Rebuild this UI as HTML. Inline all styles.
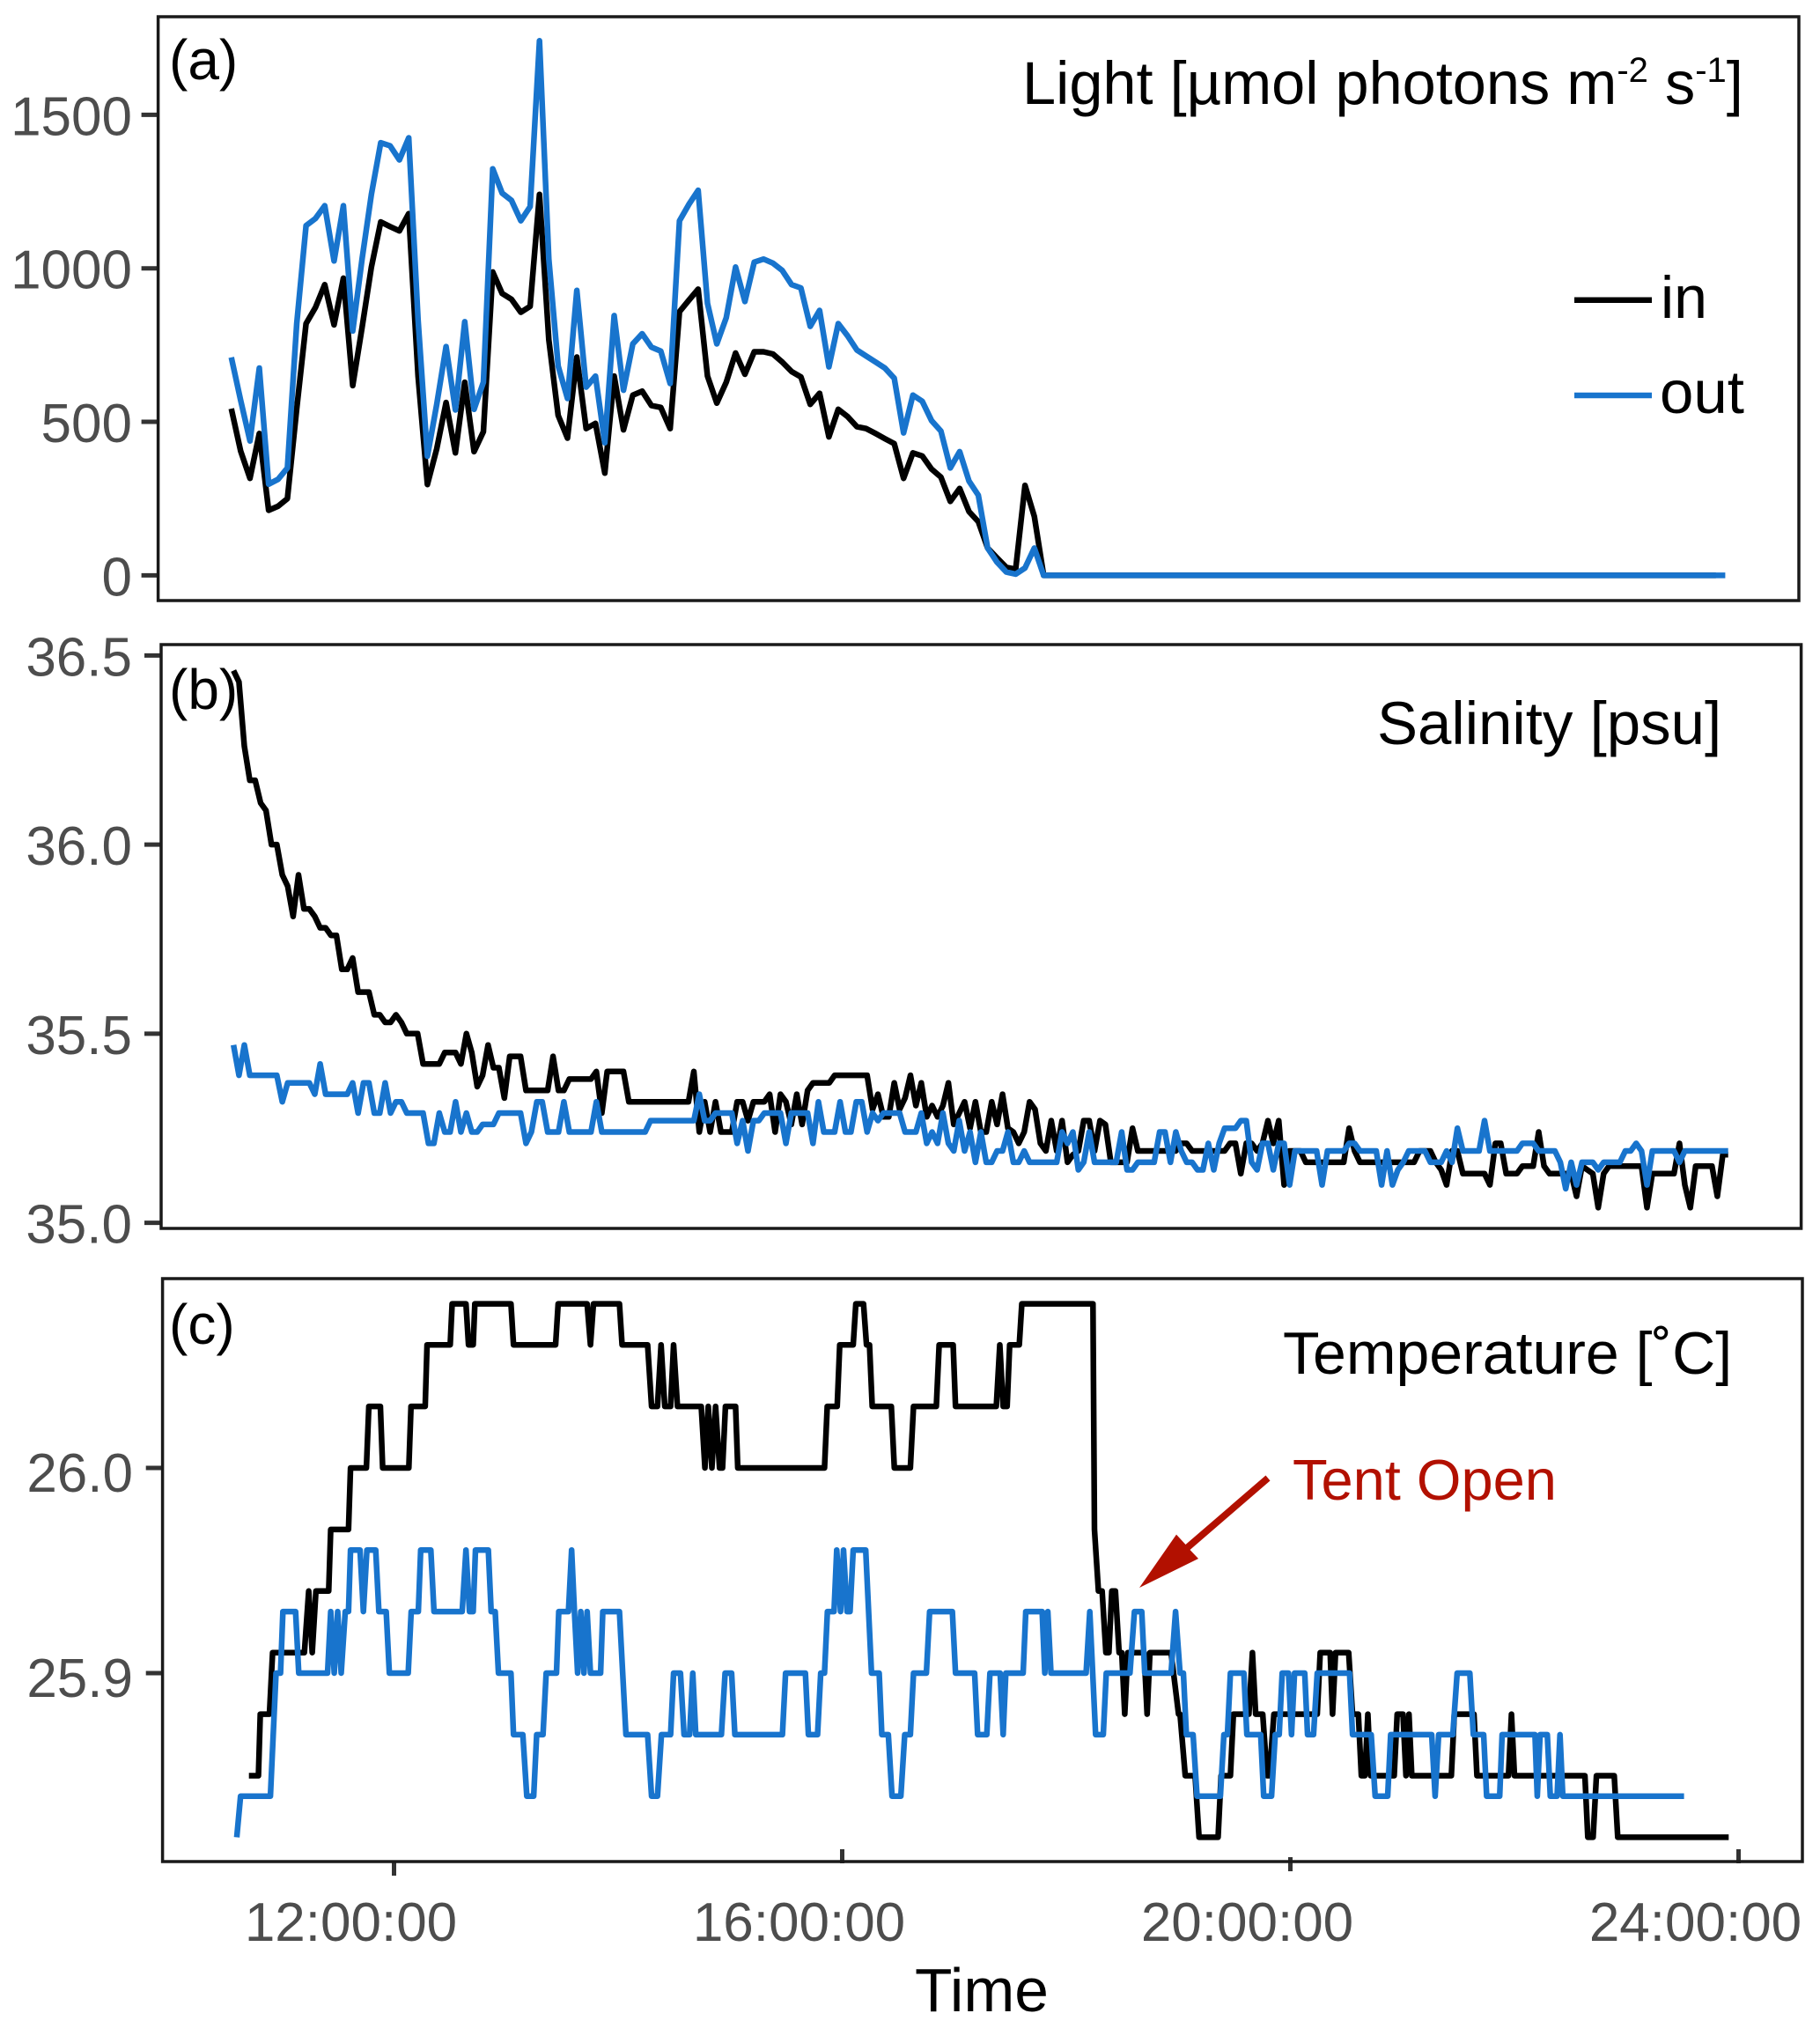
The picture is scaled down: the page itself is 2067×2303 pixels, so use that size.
<!DOCTYPE html>
<html lang="en">
<head>
<meta charset="utf-8">
<title>Light, salinity and temperature in and out of tent</title>
<style>
html,body{margin:0;padding:0;background:#fff;}
svg{display:block;font-family:"Liberation Sans",sans-serif;}
</style>
</head>
<body>
<svg id="chart" xmlns="http://www.w3.org/2000/svg" width="2067" height="2303" viewBox="0 0 2067 2303">
  <rect x="0" y="0" width="2067" height="2303" fill="#ffffff"/>
  <g id="ticks"></g>
  <g id="lines" fill="none" stroke-width="6.5" stroke-linejoin="round" stroke-linecap="butt"></g>
  <rect x="179.6" y="19" width="1863.4" height="663" fill="none" stroke="#1a1a1a" stroke-width="3.5"/>
  <rect x="183" y="732" width="1862.6" height="663" fill="none" stroke="#1a1a1a" stroke-width="3.5"/>
  <rect x="184.6" y="1452" width="1862.4" height="662" fill="none" stroke="#1a1a1a" stroke-width="3.5"/>
  <g id="tick-labels" fill="#4d4d4d" font-size="62"></g>

  <text x="192" y="90" font-size="64" fill="#000">(a)</text>
  <text x="192" y="805" font-size="64" fill="#000">(b)</text>
  <text x="192" y="1526" font-size="64" fill="#000">(c)</text>

  <text x="1161" y="118" font-size="68.5" fill="#000">Light [µmol photons m<tspan font-size="40" dy="-25">-2</tspan><tspan dy="25"> s</tspan><tspan font-size="40" dy="-25">-1</tspan><tspan dy="25">]</tspan></text>
  <text x="1564" y="845" font-size="69" fill="#000">Salinity [psu]</text>
  <text x="1457" y="1560" font-size="68" fill="#000">Temperature [˚C]</text>

  <line x1="1788" y1="340.7" x2="1876" y2="340.7" stroke="#000" stroke-width="6.5"/>
  <text x="1886" y="361" font-size="68" fill="#000">in</text>
  <line x1="1788" y1="449" x2="1876" y2="449" stroke="#1874cd" stroke-width="6.5"/>
  <text x="1885" y="469" font-size="69" fill="#000">out</text>

  <polygon fill="#b21000" points="1294,1803 1336,1742.6 1346.5,1754 1437.5,1675.5 1442.5,1681.5 1351.5,1760 1361,1770"/>
  <text x="1468" y="1703" font-size="65" fill="#b21000">Tent Open</text>

  <text x="1039" y="2284" font-size="69.5" fill="#000">Time</text>
</svg>
<script>
// ---- Panel (a): light, one reading every 5 minutes from 10:35 ----
const lightIn = [543,405,316,462,212,225,250,543,820,872,947,816,968,618,807,1004,1151,1136,1122,1178,649,296,412,563,399,629,403,468,988,918,899,857,876,1241,767,521,447,711,478,495,333,649,474,587,600,553,547,478,859,896,932,649,561,629,724,655,728,728,721,695,664,646,557,593,451,541,517,484,478,462,445,429,316,399,389,346,320,241,283,208,175,89,57,26,20,293,192,0,0,0,0,0,0,0,0,0,0,0,0,0,0,0,0,0,0,0,0,0,0,0,0,0,0,0,0,0,0,0,0,0,0,0,0,0,0,0,0,0,0,0,0,0,0,0,0,0,0,0,0,0,0,0,0,0,0,0,0,0,0,0,0,0,0,0,0,0,0,0,0,0];
const lightOut = [710,570,438,675,297,313,350,820,1139,1162,1204,1024,1204,796,1030,1241,1409,1399,1353,1425,833,388,557,745,539,826,541,629,1324,1245,1221,1155,1201,1741,1030,682,576,928,613,649,432,846,603,754,787,743,730,625,1155,1208,1254,886,754,839,1004,892,1020,1030,1017,993,947,936,811,863,679,820,780,734,714,695,675,642,464,587,567,504,470,350,403,307,261,89,43,11,4,24,89,0,0,0,0,0,0,0,0,0,0,0,0,0,0,0,0,0,0,0,0,0,0,0,0,0,0,0,0,0,0,0,0,0,0,0,0,0,0,0,0,0,0,0,0,0,0,0,0,0,0,0,0,0,0,0,0,0,0,0,0,0,0,0,0,0,0,0,0,0,0,0,0,0,0];

// ---- Panel (b): salinity, one reading every 2.9 minutes from 10:35 ----
const salinityIn = [36.46,36.43,36.26,36.17,36.17,36.11,36.09,36.00,36.00,35.92,
35.89,35.81,35.92,35.83,35.83,35.81,35.78,35.78,35.76,35.76,
35.67,35.67,35.70,35.61,35.61,35.61,35.55,35.55,35.53,35.53,
35.55,35.53,35.50,35.50,35.50,35.42,35.42,35.42,35.42,35.45,
35.45,35.45,35.42,35.50,35.45,35.36,35.39,35.47,35.41,35.41,
35.33,35.44,35.44,35.44,35.35,35.35,35.35,35.35,35.35,35.44,
35.35,35.35,35.38,35.38,35.38,35.38,35.38,35.40,35.29,35.40,
35.40,35.40,35.40,35.32,35.32,35.32,35.32,35.32,35.32,35.32,
35.32,35.32,35.32,35.32,35.32,35.40,35.24,35.32,35.24,35.32,
35.24,35.24,35.24,35.32,35.32,35.27,35.32,35.32,35.32,35.34,
35.24,35.34,35.32,35.26,35.34,35.26,35.35,35.37,35.37,35.37,
35.37,35.39,35.39,35.39,35.39,35.39,35.39,35.39,35.30,35.34,
35.28,35.28,35.37,35.30,35.33,35.39,35.31,35.37,35.28,35.31,
35.28,35.31,35.37,35.26,35.29,35.32,35.25,35.32,35.24,35.24,
35.32,35.26,35.34,35.25,35.24,35.21,35.24,35.32,35.30,35.21,
35.19,35.27,35.19,35.27,35.16,35.18,35.19,35.27,35.27,35.19,
35.27,35.26,35.16,35.16,35.16,35.16,35.25,35.19,35.19,35.19,
35.19,35.19,35.19,35.19,35.19,35.21,35.21,35.19,35.19,35.19,
35.19,35.19,35.19,35.19,35.21,35.21,35.13,35.21,35.21,35.19,
35.21,35.27,35.21,35.27,35.10,35.19,35.19,35.19,35.16,35.16,
35.16,35.16,35.16,35.16,35.16,35.16,35.25,35.19,35.16,35.16,
35.16,35.16,35.16,35.16,35.16,35.16,35.16,35.16,35.16,35.19,
35.19,35.19,35.16,35.14,35.10,35.19,35.19,35.13,35.13,35.13,
35.13,35.13,35.10,35.21,35.21,35.13,35.13,35.13,35.15,35.15,
35.15,35.24,35.15,35.13,35.13,35.13,35.13,35.13,35.07,35.15,
35.14,35.13,35.04,35.13,35.15,35.15,35.15,35.15,35.15,35.15,
35.15,35.04,35.13,35.13,35.13,35.13,35.13,35.21,35.10,35.04,
35.15,35.15,35.15,35.15,35.07,35.18,35.18];
const salinityOut = [35.47,35.39,35.47,35.39,35.39,35.39,35.39,35.39,35.39,35.32,
35.37,35.37,35.37,35.37,35.37,35.34,35.42,35.34,35.34,35.34,
35.34,35.34,35.37,35.29,35.37,35.37,35.29,35.29,35.37,35.29,
35.32,35.32,35.29,35.29,35.29,35.29,35.21,35.21,35.29,35.24,
35.24,35.32,35.24,35.29,35.24,35.24,35.26,35.26,35.26,35.29,
35.29,35.29,35.29,35.29,35.21,35.24,35.32,35.32,35.24,35.24,
35.24,35.32,35.24,35.24,35.24,35.24,35.24,35.32,35.24,35.24,
35.24,35.24,35.24,35.24,35.24,35.24,35.24,35.27,35.27,35.27,
35.27,35.27,35.27,35.27,35.27,35.27,35.34,35.27,35.27,35.29,
35.29,35.29,35.29,35.21,35.27,35.19,35.27,35.27,35.29,35.29,
35.29,35.29,35.21,35.29,35.29,35.29,35.29,35.21,35.32,35.24,
35.24,35.24,35.32,35.24,35.24,35.32,35.32,35.24,35.29,35.27,
35.29,35.29,35.29,35.29,35.24,35.24,35.24,35.29,35.21,35.24,
35.21,35.29,35.21,35.19,35.27,35.19,35.24,35.16,35.24,35.16,
35.16,35.19,35.19,35.24,35.16,35.16,35.19,35.16,35.16,35.16,
35.16,35.16,35.16,35.24,35.21,35.24,35.14,35.16,35.24,35.16,
35.16,35.16,35.16,35.16,35.24,35.14,35.14,35.16,35.16,35.16,
35.16,35.24,35.24,35.16,35.24,35.19,35.16,35.16,35.14,35.14,
35.21,35.14,35.21,35.25,35.25,35.25,35.27,35.27,35.16,35.14,
35.21,35.21,35.14,35.21,35.21,35.10,35.19,35.19,35.19,35.19,
35.19,35.10,35.19,35.19,35.19,35.19,35.21,35.21,35.19,35.19,
35.19,35.19,35.10,35.19,35.10,35.14,35.16,35.19,35.19,35.19,
35.19,35.16,35.16,35.16,35.19,35.16,35.25,35.19,35.19,35.19,
35.19,35.27,35.19,35.19,35.19,35.19,35.19,35.19,35.21,35.21,
35.21,35.19,35.19,35.19,35.19,35.16,35.09,35.16,35.10,35.16,
35.16,35.16,35.14,35.16,35.16,35.16,35.16,35.19,35.19,35.21,
35.19,35.10,35.19,35.19,35.19,35.19,35.19,35.16,35.19,35.19,
35.19,35.19,35.19,35.19,35.19,35.19,35.19];

// ---- Panel (c): temperature, readings where the value changes ----
// Times are minutes after 10:00.
const tempInTimes = [42.3,47.4,48.4,53.3,55.0,72.0,74.3,76.2,78.2,85.0,86.1,95.6,96.7,105.2,106.5,112.7,113.9,127.9,129.1,136.7,137.7,150.1,151.1,158.5,159.9,162.4,163.3,182.6,184.0,206.5,207.9,223.4,225.2,226.8,240.7,
242.1,255.8,257.9,261.1,263.0,265.0,268.1,269.7,271.8,284.5,286.5,288.3,290.2,292.2,294.3,295.9,297.5,302.9,304.1,350.5,352.0,357.3,358.7,365.9,367.3,371.4,373.0,374.6,376.1,386.3,387.9,396.5,398.2,410.4,411.9,419.4,420.7,442.5,444.4,446.2,448.3,449.7,454.8,456.2,494.3,495.1,497.2,499.2,
501.2,502.8,504.4,506.3,508.3,509.7,511.3,512.9,521.7,523.3,524.8,536.1,540.1,540.9,543.7,549.0,551.1,561.3,562.9,567.9,569.5,577.8,579.7,581.4,585.2,587.5,588.8,591.2,614.4,616.0,621.3,622.6,624.2,631.2,633.3,636.4,638.0,639.9,641.5,643.0,655.6,657.2,660.3,661.9,663.5,
665.0,686.2,687.8,698.3,699.9,716.8,718.4,720.0,757.7,759.3,762.1,763.9,773.4,775.3,834.7];
const tempInValues = [25.85,25.85,25.88,25.88,25.91,25.91,25.94,25.91,25.94,25.94,25.97,25.97,26.00,26.00,26.03,26.03,26.00,26.00,26.03,26.03,26.06,26.06,26.08,26.08,26.06,26.06,26.08,26.08,26.06,26.06,26.08,26.08,26.06,26.08,26.08,
26.06,26.06,26.03,26.03,26.06,26.03,26.03,26.06,26.03,26.03,26.00,26.03,26.00,26.03,26.00,26.00,26.03,26.03,26.00,26.00,26.03,26.03,26.06,26.06,26.08,26.08,26.06,26.06,26.03,26.03,26.00,26.00,26.03,26.03,26.06,26.06,26.03,26.03,26.06,26.03,26.03,26.06,26.06,26.08,26.08,25.97,25.94,25.94,
25.91,25.91,25.94,25.94,25.91,25.91,25.88,25.91,25.91,25.88,25.91,25.91,25.88,25.88,25.85,25.85,25.82,25.82,25.85,25.85,25.88,25.88,25.91,25.88,25.88,25.85,25.85,25.88,25.88,25.91,25.91,25.88,25.91,25.91,25.88,25.88,25.85,25.85,25.88,25.85,25.85,25.88,25.88,25.85,25.88,
25.85,25.85,25.88,25.88,25.85,25.85,25.88,25.85,25.85,25.82,25.82,25.85,25.85,25.82,25.82];
const tempOutTimes = [35.8,37.8,53.8,56.8,59.2,60.5,67.3,69.0,84.4,86.1,88.0,89.8,91.7,93.9,95.6,96.7,101.8,103.6,105.5,110.2,111.9,115.8,117.5,127.6,129.2,133.0,134.3,139.7,141.4,156.5,158.5,160.4,162.4,163.6,170.5,172.0,174.2,175.9,182.6,184.0,189.0,191.1,194.8,196.4,199.8,201.5,207.0,208.2,213.4,215.1,216.6,218.3,220.0,221.7,223.4,225.2,230.6,231.8,240.7,
244.2,255.8,257.9,261.1,263.2,268.1,269.7,273.4,275.3,278.3,280.0,281.6,295.3,297.3,300.8,302.5,328.0,329.7,340.3,341.9,346.8,348.5,350.5,352.1,355.6,357.1,359.1,360.7,362.6,364.2,365.9,372.6,375.7,379.8,381.2,384.7,386.7,391.4,393.5,396.5,398.2,405.1,406.8,419.0,420.7,430.9,432.5,437.4,439.1,444.6,446.2,447.6,456.9,458.3,467.1,468.5,470.1,471.8,490.6,492.6,495.7,499.8,501.4,
514.1,516.5,520.4,522.0,536.1,538.5,540.9,542.7,544.3,547.9,550.0,562.5,564.4,566.3,567.9,575.1,576.7,584.1,585.7,589.9,591.9,594.0,595.6,599.0,600.6,602.2,607.7,609.2,612.4,614.4,631.7,633.3,643.3,645.4,652.1,653.7,
675.7,677.5,679.4,687.0,689.3,696.1,698.0,703.5,705.1,712.1,713.4,731.0,732.2,733.7,737.6,739.2,742.8,744.4,745.9,810.8];
const tempOutValues = [25.82,25.84,25.84,25.90,25.90,25.93,25.93,25.90,25.90,25.93,25.90,25.93,25.90,25.93,25.93,25.96,25.96,25.93,25.96,25.96,25.93,25.93,25.90,25.90,25.93,25.93,25.96,25.96,25.93,25.93,25.96,25.93,25.93,25.96,25.96,25.93,25.93,25.90,25.90,25.87,25.87,25.84,25.84,25.87,25.87,25.90,25.90,25.93,25.93,25.96,25.93,25.90,25.93,25.90,25.93,25.90,25.90,25.93,25.93,
25.87,25.87,25.84,25.84,25.87,25.87,25.90,25.90,25.87,25.87,25.90,25.87,25.87,25.90,25.90,25.87,25.87,25.90,25.90,25.87,25.87,25.90,25.90,25.93,25.93,25.96,25.93,25.96,25.93,25.93,25.96,25.96,25.90,25.90,25.87,25.87,25.84,25.84,25.87,25.87,25.90,25.90,25.93,25.93,25.90,25.90,25.87,25.87,25.90,25.90,25.87,25.90,25.90,25.93,25.93,25.90,25.93,25.90,25.90,25.93,25.87,25.87,25.90,
25.90,25.93,25.93,25.90,25.90,25.93,25.90,25.90,25.87,25.87,25.84,25.84,25.87,25.87,25.90,25.90,25.87,25.87,25.84,25.84,25.87,25.87,25.90,25.90,25.87,25.90,25.90,25.87,25.87,25.90,25.90,25.87,25.87,25.84,25.84,25.87,
25.87,25.84,25.87,25.87,25.90,25.90,25.87,25.87,25.84,25.84,25.87,25.87,25.84,25.87,25.87,25.84,25.84,25.87,25.84,25.84];

// ---- Axis ticks ----
const lightTicks = [0,500,1000,1500];
const lightTickLabels = ["0","500","1000","1500"];
const salinityTicks = [35.0,35.5,36.0,36.5];
const salinityTickLabels = ["35.0","35.5","36.0","36.5"];
const tempTicks = [25.9,26.0];
const tempTickLabels = ["25.9","26.0"];
const timeTicks = [120,360,600,840];
const timeTickLabels = ["12:00:00","16:00:00","20:00:00","24:00:00"];

// ---- Sampling ----
const lightStartMinute = 35;
const lightStepMinutes = 5;
const salinityStartMinute = 35;
const salinityStepMinutes = 2.9;

// ---- Axis functions ----
const SVGNS = "http://www.w3.org/2000/svg";
function timeX(minute, panelShift) { return 447.5 + panelShift + (minute - 120) * 127.25 / 60; }
function lightY(v) { return 653.4 - v * 174.35 / 500; }
function salinityY(v) { return 1388.6 - (v - 35) * 429.5; }
function tempY(v) { return 1667 - (v - 26) * 2330; }

const PANEL_A_SHIFT = -4.5;
const PANEL_B_SHIFT = -2;
const PANEL_C_SHIFT = 0;

const lineLayer = document.getElementById("lines");
const tickLayer = document.getElementById("ticks");
const labelLayer = document.getElementById("tick-labels");

function pointsUniform(values, start, step, shift, yFn) {
  return values.map(function (v, i) {
    return timeX(start + i * step, shift).toFixed(1) + "," + yFn(v).toFixed(1);
  }).join(" ");
}
function pointsTimed(times, values, shift, yFn) {
  return values.map(function (v, i) {
    return timeX(times[i], shift).toFixed(1) + "," + yFn(v).toFixed(1);
  }).join(" ");
}
function addLine(points, color, name) {
  const el = document.createElementNS(SVGNS, "polyline");
  el.setAttribute("points", points);
  el.setAttribute("stroke", color);
  
  
  lineLayer.appendChild(el);
}
function addTick(x1, y1, x2, y2, name) {
  const el = document.createElementNS(SVGNS, "line");
  el.setAttribute("x1", x1);
  el.setAttribute("y1", y1);
  el.setAttribute("x2", x2);
  el.setAttribute("y2", y2);
  el.setAttribute("stroke", "#333333");
  el.setAttribute("stroke-width", "5");
  
  
  tickLayer.appendChild(el);
}
function addLabel(x, y, text, anchor, name) {
  const el = document.createElementNS(SVGNS, "text");
  el.setAttribute("x", x);
  el.setAttribute("y", y);
  el.setAttribute("text-anchor", anchor);
  el.textContent = text;
  
  
  labelLayer.appendChild(el);
}

// Series
addLine(pointsUniform(lightIn, lightStartMinute, lightStepMinutes, PANEL_A_SHIFT, lightY), "#000000", "light-in-line");
addLine(pointsUniform(lightOut, lightStartMinute, lightStepMinutes, PANEL_A_SHIFT, lightY), "#1874cd", "light-out-line");
addLine(pointsUniform(salinityIn, salinityStartMinute, salinityStepMinutes, PANEL_B_SHIFT, salinityY), "#000000", "salinity-in-line");
addLine(pointsUniform(salinityOut, salinityStartMinute, salinityStepMinutes, PANEL_B_SHIFT, salinityY), "#1874cd", "salinity-out-line");
addLine(pointsTimed(tempInTimes, tempInValues, PANEL_C_SHIFT, tempY), "#000000", "temperature-in-line");
addLine(pointsTimed(tempOutTimes, tempOutValues, PANEL_C_SHIFT, tempY), "#1874cd", "temperature-out-line");

// Y ticks and labels
lightTicks.forEach(function (v, i) {
  addTick(160.6, lightY(v), 179.6, lightY(v), "light-y-tick");
  addLabel(150, lightY(v) + 23, lightTickLabels[i], "end", "light-y-tick-label");
});
salinityTicks.forEach(function (v, i) {
  addTick(164, salinityY(v), 183, salinityY(v), "salinity-y-tick");
  addLabel(150, salinityY(v) + 23, salinityTickLabels[i], "end", "salinity-y-tick-label");
});
tempTicks.forEach(function (v, i) {
  addTick(165.7, tempY(v), 184.6, tempY(v), "temperature-y-tick");
  addLabel(151, tempY(v) + 27, tempTickLabels[i], "end", "temperature-y-tick-label");
});

// X ticks (each sits slightly differently against the frame in the original figure) and labels
const tickOffsetsTop = [2114, 2100, 2109, 2100];
timeTicks.forEach(function (m, i) {
  const x = timeX(m, PANEL_C_SHIFT);
  addTick(x, tickOffsetsTop[i], x, tickOffsetsTop[i] + 16, "time-x-tick");
  addLabel(x - 49, 2204, timeTickLabels[i], "middle", "time-x-tick-label");
});
</script>
</body>
</html>
